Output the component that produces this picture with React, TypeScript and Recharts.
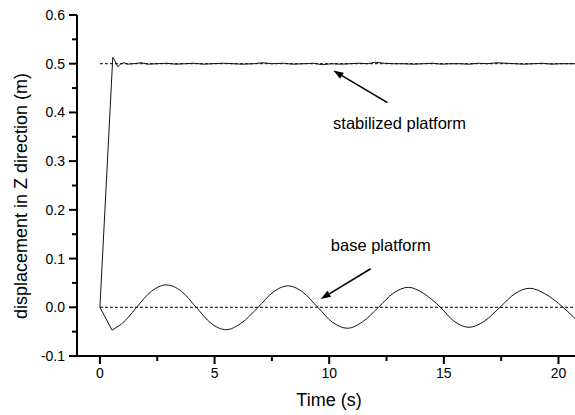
import { LineChart, Line, XAxis, YAxis, ReferenceLine, ReferenceDot } from "recharts";

const FONT = '"Liberation Sans", Arial, Helvetica, sans-serif';

// base platform response (time in s, displacement in m): initial transient, then oscillation
const baseStartTime = [0, 0.53, 0.95];
const baseStartDisp = [0, -0.047, -0.034];
const baseTime = [
  0.95, 1.25, 1.6, 2.25, 2.9, 3.55, 4.2, 4.85, 5.5, 6.15, 6.9, 7.55, 8.2,
  8.85, 9.5, 10.15, 10.8, 11.45, 12.15, 12.8, 13.45, 14.1, 14.85, 15.45, 16.1,
  16.75, 17.45, 18.1, 18.75, 19.4, 20.2, 20.72,
];
const baseDisp = [
  -0.034, -0.02, 0, 0.033, 0.046, 0.033, 0, -0.033, -0.046, -0.033, 0,
  0.031, 0.044, 0.031, 0, -0.031, -0.043, -0.03, 0, 0.029, 0.041, 0.029, 0,
  -0.029, -0.041, -0.029, 0, 0.028, 0.039, 0.028, 0, -0.023,
];

// stabilized platform response
const stabTime = [
  0, 0.56, 0.63, 0.78, 0.92, 1.05, 1.2, 1.45, 1.8, 2.1, 2.5, 2.9, 3.3, 3.7,
  4.1, 4.5, 4.9, 5.4, 5.8, 6.2, 6.7, 7.1, 7.5, 8.0, 8.4, 8.9, 9.3, 9.7, 10.1,
  10.5, 10.9, 11.3, 11.7, 12.0, 12.4, 12.8, 13.2, 13.7, 14.1, 14.5, 14.9,
  15.3, 15.7, 16.1, 16.5, 16.9, 17.3, 17.7, 18.1, 18.5, 18.9, 19.3, 19.7,
  20.1, 20.72,
];
const stabDisp = [
  0, 0.513, 0.508, 0.494, 0.5, 0.502, 0.499, 0.5, 0.502, 0.499, 0.5, 0.501,
  0.499, 0.5, 0.501, 0.499, 0.5, 0.501, 0.5, 0.499, 0.5, 0.502, 0.5, 0.501,
  0.499, 0.5, 0.501, 0.498, 0.5, 0.499, 0.5, 0.501, 0.5, 0.503, 0.501, 0.5,
  0.5, 0.499, 0.5, 0.501, 0.499, 0.5, 0.5, 0.499, 0.501, 0.5, 0.502, 0.501,
  0.5, 0.499, 0.5, 0.501, 0.499, 0.5, 0.5,
];

const xTicks = [0, 2.5, 5, 7.5, 10, 12.5, 15, 17.5, 20];
const yTicks = [-0.1, -0.05, 0, 0.05, 0.1, 0.15, 0.2, 0.25, 0.3, 0.35, 0.4, 0.45, 0.5, 0.55, 0.6];
const refLevels = [0.5, 0];

// annotations: text, text anchor (t, y), arrow tail, arrow tip
const noteText = ["stabilized platform", "base platform"];
const noteAt = [[10.17, 0.366], [10.07, 0.115]];
const arrowFrom = [[12.54, 0.42], [11.81, 0.079]];
const arrowTo = [[10.18, 0.486], [9.63, 0.017]];

const baseStartData = baseStartTime.map((t, i) => ({ t, v: baseStartDisp[i] }));
const baseData = baseTime.map((t, i) => ({ t, v: baseDisp[i] }));
const stabData = stabTime.map((t, i) => ({ t, v: stabDisp[i] }));

const YTick = (props: any) => {
  const { x, y, payload } = props;
  const v = payload.value;
  const major = Math.abs(v * 10 - Math.round(v * 10)) < 1e-6;
  const ax = x + 12;
  return (
    <g>
      <line x1={ax - (major ? 8 : 5)} x2={ax} y1={y} y2={y} stroke="#000" strokeWidth={2} />
      {major && (
        <text x={x} y={y + 5} textAnchor="end" fontSize={14} fontFamily={FONT} fill="#000">
          {v.toFixed(1)}
        </text>
      )}
    </g>
  );
};

const XTick = (props: any) => {
  const { x, y, payload } = props;
  const v = payload.value;
  const major = v % 5 === 0;
  const ay = y - 12;
  return (
    <g>
      <line x1={x} x2={x} y1={ay} y2={ay + (major ? 8 : 5)} stroke="#000" strokeWidth={2} />
      {major && (
        <text x={x} y={y + 10} textAnchor="middle" fontSize={14} fontFamily={FONT} fill="#000">
          {v}
        </text>
      )}
    </g>
  );
};

const Arrow = (props: any) => {
  const { x1, y1, x2, y2 } = props;
  const ang = Math.atan2(y2 - y1, x2 - x1);
  const len = 10;
  const hw = 3.5;
  const bx = x2 - len * Math.cos(ang);
  const by = y2 - len * Math.sin(ang);
  const px = -Math.sin(ang) * hw;
  const py = Math.cos(ang) * hw;
  return (
    <g>
      <line x1={x1} y1={y1} x2={bx} y2={by} stroke="#000" strokeWidth={1.6} />
      <polygon points={`${x2},${y2} ${bx + px},${by + py} ${bx - px},${by - py}`} fill="#000" />
    </g>
  );
};

const noteShape = (text: string) => (props: any) => (
  <text x={props.cx} y={props.cy} fontSize={16.5} fontFamily={FONT} fill="#000">
    {text}
  </text>
);

export default function App() {
  return (
    <div
      style={{
        position: "absolute",
        left: 0,
        top: 0,
        width: 575,
        height: 415,
        overflow: "hidden",
        background: "#fff",
      }}
    >
      <LineChart width={575} height={415} margin={{ top: 15, right: 0, bottom: 0, left: 0 }}>
        <XAxis
          dataKey="t"
          type="number"
          domain={[-1, 20.72]}
          allowDataOverflow
          ticks={xTicks}
          interval={0}
          height={59}
          tickSize={8}
          tickMargin={4}
          tickLine={false}
          tick={<XTick />}
          axisLine={{ stroke: "#000", strokeWidth: 2 }}
          label={() => (
            <text x={329} y={406} textAnchor="middle" fontSize={18} fontFamily={FONT} fill="#000">
              Time (s)
            </text>
          )}
        />
        <YAxis
          type="number"
          domain={[-0.1, 0.6]}
          allowDataOverflow
          ticks={yTicks}
          interval={0}
          width={77}
          tickSize={8}
          tickMargin={4}
          tickLine={false}
          tick={<YTick />}
          axisLine={{ stroke: "#000", strokeWidth: 2 }}
          label={() => (
            <text
              transform="translate(21,196) rotate(-90)"
              textAnchor="middle"
              dominantBaseline="central"
              fontSize={18}
              fontFamily={FONT}
              fill="#000"
            >
              displacement in Z direction (m)
            </text>
          )}
        />
        {refLevels.map((lv) => (
          <ReferenceLine
            key={lv}
            segment={[
              { x: 0, y: lv },
              { x: 20.72, y: lv },
            ]}
            stroke="#000"
            strokeWidth={1}
            strokeDasharray="3 2"
          />
        ))}
        <Line
          data={baseStartData}
          dataKey="v"
          type="linear"
          stroke="#111"
          strokeWidth={1}
          dot={false}
          isAnimationActive={false}
        />
        <Line
          data={baseData}
          dataKey="v"
          type="monotone"
          stroke="#111"
          strokeWidth={1}
          dot={false}
          isAnimationActive={false}
        />
        <Line
          data={stabData}
          dataKey="v"
          type="linear"
          stroke="#111"
          strokeWidth={1}
          dot={false}
          isAnimationActive={false}
        />
        {noteText.map((txt, i) => (
          <ReferenceLine
            key={`arrow-${i}`}
            segment={[
              { x: arrowFrom[i][0], y: arrowFrom[i][1] },
              { x: arrowTo[i][0], y: arrowTo[i][1] },
            ]}
            shape={<Arrow />}
          />
        ))}
        {noteText.map((txt, i) => (
          <ReferenceDot
            key={`note-${i}`}
            x={noteAt[i][0]}
            y={noteAt[i][1]}
            r={0}
            shape={noteShape(txt)}
          />
        ))}
      </LineChart>
    </div>
  );
}
